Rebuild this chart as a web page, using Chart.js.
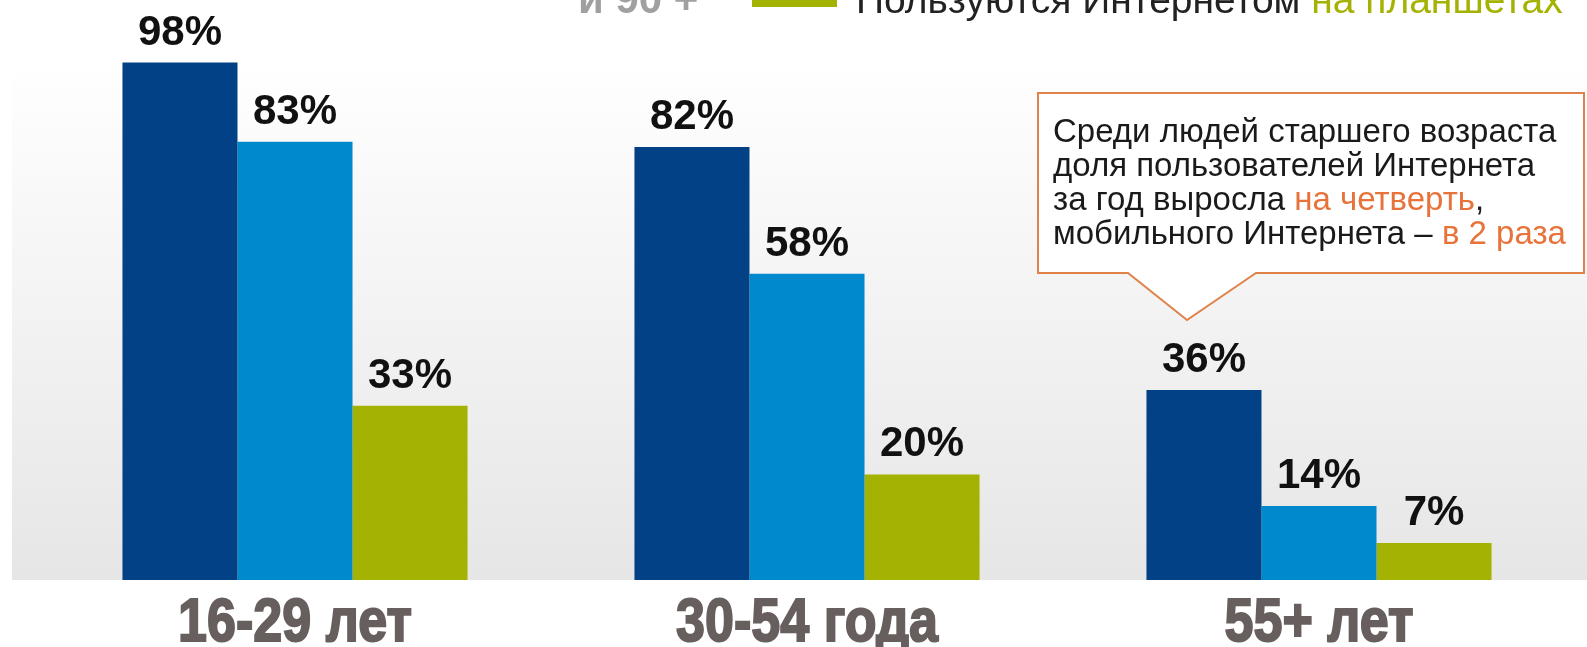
<!DOCTYPE html>
<html>
<head>
<meta charset="utf-8">
<script src="https://cdn.jsdelivr.net/npm/chart.js@4.4.0/dist/chart.umd.min.js"></script>
<style>
    html, body { margin: 0; padding: 0; background: #fff; }
    #wrap { width: 1587px; height: 647px; position: relative; }
</style>
</head>
<body>
<div id="wrap"><canvas id="chart"></canvas></div>
<script>
// Age groups and shares of users (%)
const ageGroups = ['16-29 лет', '30-54 года', '55+ лет'];
const internetUsers = [98, 82, 36];
const mobileUsers = [83, 58, 14];
const tabletUsers = [33, 20, 7];

const seriesColors = ['#024186', '#0089cc', '#a4b202'];

// Callout text, split into runs (text, is highlighted)
const calloutLines = [
    [['Среди людей старшего возраста', false]],
    [['доля пользователей Интернета', false]],
    [['за год выросла ', false], ['на четверть', true], [',', false]],
    [['мобильного Интернета – ', false], ['в 2 раза', true]]
];

const FONT = '"Liberation Sans", Arial, sans-serif';

// Gray gradient panel behind the bars + the cut-off legend at the top
const backgroundPlugin = {
    id: 'panel',
    beforeDraw(chart) {
        const ctx = chart.ctx;
        const bottom = chart.chartArea.bottom;
        ctx.save();
        const grad = ctx.createLinearGradient(0, 60, 0, bottom);
        grad.addColorStop(0, '#ffffff');
        grad.addColorStop(1, '#e6e6e6');
        ctx.fillStyle = grad;
        ctx.fillRect(12, 60, chart.width - 12, bottom - 60);

        // legend strip, mostly cropped by the top edge
        ctx.textBaseline = 'alphabetic';
        ctx.fillStyle = '#a0a0a0';
        ctx.font = 'bold 42px ' + FONT;
        ctx.fillText('и 90 +', 578, 13);
        ctx.fillStyle = '#a4b202';
        ctx.fillRect(752, -20, 85, 27);
        ctx.font = '39px ' + FONT;
        ctx.fillStyle = '#222';
        const t1 = 'Пользуются Интернетом ';
        ctx.fillText(t1, 856, 13);
        ctx.fillStyle = '#a4b202';
        ctx.fillText('на планшетах', 856 + ctx.measureText(t1).width, 13);
        ctx.restore();
    }
};

// Category names, value labels above bars and the callout box
const labelsPlugin = {
    id: 'labels',
    afterDatasetsDraw(chart) {
        const ctx = chart.ctx;
        const xScale = chart.scales.x;
        ctx.save();

        // heavy condensed category labels
        ctx.font = 'bold 62px ' + FONT;
        ctx.fillStyle = '#675f5e';
        ctx.strokeStyle = '#675f5e';
        ctx.lineWidth = 2;
        ctx.textAlign = 'center';
        ctx.textBaseline = 'alphabetic';
        ageGroups.forEach((name, i) => {
            const x = xScale.getPixelForValue(i);
            ctx.save();
            ctx.translate(x, 641);
            ctx.scale(0.84, 1);
            ctx.fillText(name, 0, 0);
            ctx.strokeText(name, 0, 0);
            ctx.restore();
        });

        ctx.font = 'bold 42px ' + FONT;
        ctx.fillStyle = '#111';
        chart.data.datasets.forEach((ds, i) => {
            chart.getDatasetMeta(i).data.forEach((bar, j) => {
                ctx.fillText(ds.data[j] + '%', bar.x, bar.y - 18);
            });
        });

        // callout
        const left = 1038, top = 93, right = 1584, bottom = 273;
        ctx.beginPath();
        ctx.moveTo(left, top);
        ctx.lineTo(right, top);
        ctx.lineTo(right, bottom);
        ctx.lineTo(1256, bottom);
        ctx.lineTo(1187, 320);
        ctx.lineTo(1128, bottom);
        ctx.lineTo(left, bottom);
        ctx.closePath();
        ctx.fillStyle = '#ffffff';
        ctx.fill();
        ctx.lineWidth = 2;
        ctx.strokeStyle = '#e0834a';
        ctx.stroke();

        ctx.font = '33px ' + FONT;
        ctx.textAlign = 'left';
        const baselines = [142, 176, 210, 244];
        calloutLines.forEach((runs, k) => {
            let x = 1053;
            runs.forEach(([text, hot]) => {
                ctx.fillStyle = hot ? '#e8733a' : '#1a1a1a';
                ctx.fillText(text, x, baselines[k]);
                x += ctx.measureText(text).width;
            });
        });
        ctx.restore();
    }
};

new Chart(document.getElementById('chart'), {
    type: 'bar',
    data: {
        labels: ageGroups,
        datasets: [
            { label: 'Интернет', data: internetUsers, backgroundColor: seriesColors[0] },
            { label: 'Мобильный Интернет', data: mobileUsers, backgroundColor: seriesColors[1] },
            { label: 'Планшеты', data: tabletUsers, backgroundColor: seriesColors[2] }
        ]
    },
    options: {
        responsive: true,
        maintainAspectRatio: false,
        animation: false,
        layout: {
            padding: { top: 52, left: 39, right: 12, bottom: 67 }
        },
        datasets: {
            bar: { categoryPercentage: 0.674, barPercentage: 1.0, borderWidth: 0 }
        },
        scales: {
            x: {
                grid: { display: false, drawTicks: false },
                border: { display: false },
                ticks: { display: false }
            },
            y: {
                display: false,
                min: 0,
                max: 100
            }
        },
        plugins: {
            legend: { display: false },
            tooltip: { enabled: false }
        }
    },
    plugins: [backgroundPlugin, labelsPlugin]
});
</script>
</body>
</html>
